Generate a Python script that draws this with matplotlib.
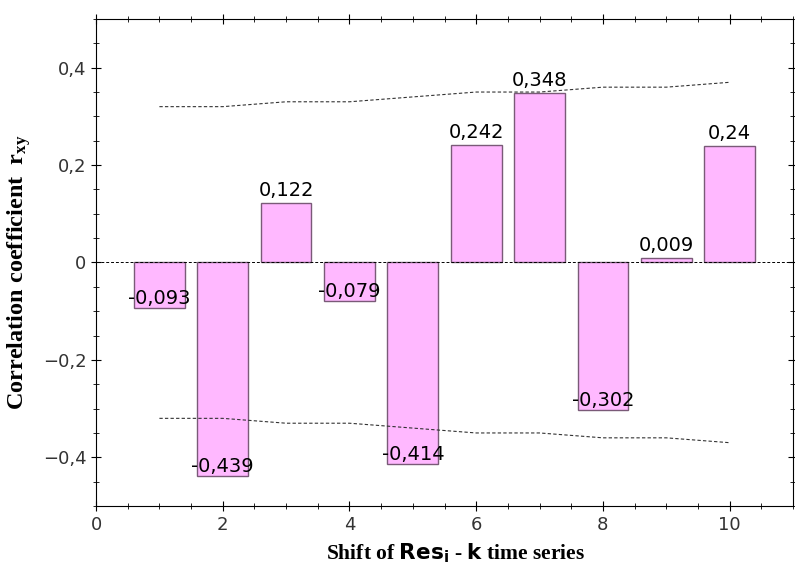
import numpy as np
import matplotlib.pyplot as plt
from matplotlib.ticker import MultipleLocator, FuncFormatter

# datos
shifts = [1, 2, 3, 4, 5, 6, 7, 8, 9, 10]
r_xy = [-0.093, -0.439, 0.122, -0.079, -0.414, 0.242, 0.348, -0.302, 0.009, 0.24]
conf_upper = [0.32, 0.32, 0.33, 0.33, 0.34, 0.35, 0.35, 0.36, 0.36, 0.37]
conf_lower = [-0.32, -0.32, -0.33, -0.33, -0.34, -0.35, -0.35, -0.36, -0.36, -0.37]

plt.rcParams['mathtext.fontset'] = 'custom'
plt.rcParams['mathtext.rm'] = 'Liberation Serif:bold'
plt.rcParams['mathtext.bf'] = 'DejaVu Sans:bold'


def coma(v, pos):
    if abs(v) < 1e-9:
        return '0'
    return ('%.1f' % v).replace('.', ',').replace('-', '\u2212')


fig = plt.figure(figsize=(7.95, 5.65), dpi=100)
ax = fig.add_axes([0.1208, 0.1044, 0.8767, 0.862])

ax.bar(shifts, r_xy, width=0.8, color='#ffb8ff', edgecolor='#7a5a78', linewidth=1.0, zorder=2)
ax.axhline(0, color='black', linestyle='--', linewidth=0.7, dashes=(3, 2), zorder=3)
ax.plot(shifts, conf_upper, color='#333333', linestyle='--', linewidth=0.8, dashes=(3, 2))
ax.plot(shifts, conf_lower, color='#333333', linestyle='--', linewidth=0.8, dashes=(3, 2))

# etiquetas de las barras
for x, v in zip(shifts, r_xy):
    txt = ('%g' % v).replace('.', ',')
    if v >= 0:
        ax.annotate(txt, (x, v), xytext=(0, 2), textcoords='offset points',
                    ha='center', va='bottom', fontsize=14, zorder=4)
    else:
        ax.annotate(txt, (x, v), xytext=(0, 0), textcoords='offset points',
                    ha='center', va='bottom', fontsize=14, zorder=4)

ax.set_xlim(0, 11)
ax.set_ylim(-0.5, 0.5)
ax.xaxis.set_major_locator(MultipleLocator(2))
ax.xaxis.set_minor_locator(MultipleLocator(0.5))
ax.yaxis.set_major_locator(MultipleLocator(0.2))
ax.yaxis.set_minor_locator(MultipleLocator(0.05))
ax.yaxis.set_major_formatter(FuncFormatter(coma))
ax.tick_params(which='both', top=True, right=True, direction='inout', labelsize=13,
               labelcolor='#333333')
ax.tick_params(which='major', length=7)
ax.tick_params(which='minor', length=4)

ax.set_xlabel(r'Shift of $\mathbf{Res_i}$ - $\mathbf{k}$ time series',
              family='Liberation Serif', fontweight='bold', fontsize=15.5, labelpad=1)
ax.xaxis.set_label_coords(0.516, -0.072)
ax.set_ylabel(r'Correlation coefficient  $\mathrm{r_{xy}}$',
              family='Liberation Serif', fontweight='bold', fontsize=17.5, labelpad=4)
ax.yaxis.set_label_coords(-0.09, 0.48)

fig.savefig('out.png', dpi=100)
